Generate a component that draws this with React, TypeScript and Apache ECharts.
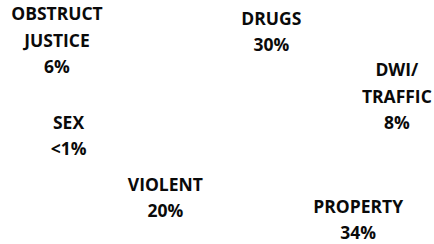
import React, { useEffect, useRef } from "react";
import * as echarts from "echarts";

// Offense categories, clockwise from the top of the pie
const categories = ["DRUGS", "DWI/\nTRAFFIC", "PROPERTY", "VIOLENT", "SEX", "OBSTRUCT\nJUSTICE"];
// Share of cases, percent (SEX is shown as "<1%")
const shares = [30, 8, 34, 20, 0.5, 6];

// Label fine-tuning (style only): [dx, dy] in px per slice
const labelNudge: [number, number][] = [
  [15, 19],
  [24, 12],
  [23, -9],
  [8, 8],
  [-76, 22],
  [-94, -49],
];

const fmtShare = (v: number) => (v < 1 ? "<1%" : `${v}%`);

export default function App() {
  const ref = useRef<HTMLDivElement>(null);
  useEffect(() => {
    if (!ref.current) return;
    const chart = echarts.init(ref.current, undefined, { renderer: "svg" });
    chart.setOption({
      animation: false,
      backgroundColor: "#ffffff",
      series: [
        {
          type: "pie",
          silent: true,
          center: [263, 132],
          radius: [0, 234],
          startAngle: 148,
          clockwise: true,
          avoidLabelOverlap: false,
          itemStyle: { color: "rgba(0,0,0,0)", borderWidth: 0 },
          emphasis: { disabled: true },
          label: {
            show: true,
            position: "inside",
            color: "#0a0a0a",
            fontFamily: "Open Sans",
            fontWeight: "bold",
            fontSize: 17.5,
            lineHeight: 26.5,
            align: "center",
            formatter: (p: any) => `${p.name}\n${fmtShare(p.value)}`,
          },
          labelLine: { show: false },
          labelLayout: (p: any) => ({
            dx: labelNudge[p.dataIndex][0],
            dy: labelNudge[p.dataIndex][1],
          }),
          data: categories.map((name, i) => ({ name, value: shares[i] })),
        },
      ],
    });
    return () => chart.dispose();
  }, []);
  return (
    <div
      ref={ref}
      style={{ position: "fixed", left: 0, top: 0, width: 434, height: 244 }}
    />
  );
}
